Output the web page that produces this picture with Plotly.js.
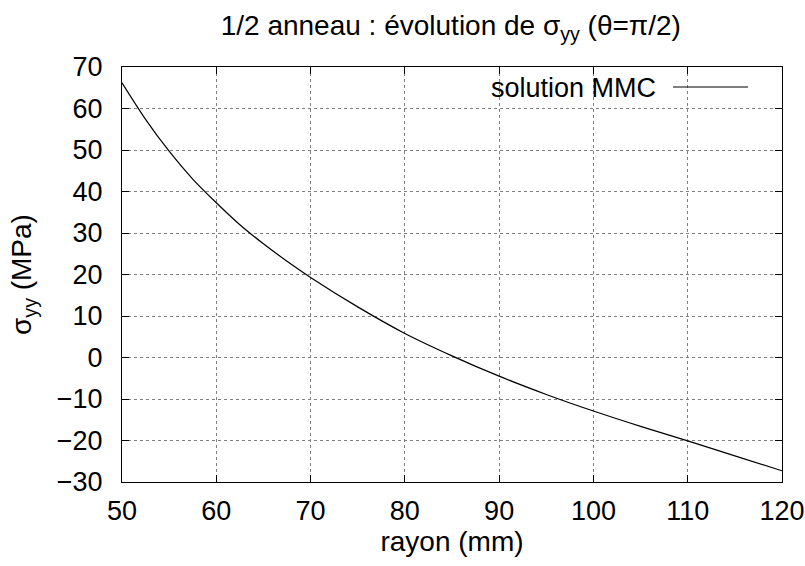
<!DOCTYPE html>
<html>
<head>
<meta charset="utf-8">
<script src="https://cdn.plot.ly/plotly-3.0.1.min.js"></script>
<style>html,body{margin:0;padding:0;background:#fff;}#chart{width:805px;height:566px;}</style>
</head>
<body>
<div id="chart"></div>
<script>
// Data
const rayon = [50, 52.5, 55, 57.5, 60, 62.5, 65, 67.5, 70, 75, 80, 85, 90, 95, 100, 105, 110, 115, 120];
const sigmaYY = [66.2, 57.4, 49.7, 43.0, 37.3, 32.0, 27.4, 23.2, 19.3, 12.2, 5.8, 0.4, -4.5, -8.9, -12.9, -16.6, -20.1, -23.7, -27.3];
const seriesName = 'solution MMC';
const xTicks = [50, 60, 70, 80, 90, 100, 110, 120];
const yTicks = [-30, -20, -10, 0, 10, 20, 30, 40, 50, 60, 70];

const FONT = 'Liberation Sans, Arial, Helvetica, sans-serif';

const trace = {
  x: rayon, y: sigmaYY, type: 'scatter', mode: 'lines', name: seriesName,
  line: {color: '#000', width: 1.2, shape: 'spline', smoothing: 0.8},
  showlegend: false, hoverinfo: 'skip'
};

const axisCommon = {
  showline: true, linecolor: '#000', linewidth: 1, mirror: 'ticks',
  ticks: 'inside', ticklen: 7, tickcolor: '#000', tickwidth: 1,
  showgrid: true, gridcolor: '#808080', gridwidth: 1, griddash: 'dot',
  zeroline: false, tickfont: {family: FONT, size: 27, color: '#000'}
};

const layout = {
  width: 805, height: 566,
  margin: {l: 122, r: 23, t: 67, b: 84, pad: 0},
  paper_bgcolor: '#fff', plot_bgcolor: '#fff',
  font: {family: FONT, color: '#000'},
  title: {text: '1/2 anneau : évolution de σ<sub>yy</sub> (θ=π/2)', font: {family: FONT, size: 28, color: '#000'},
          x: 0.56, xanchor: 'center', y: 0.955, yanchor: 'middle'},
  xaxis: Object.assign({}, axisCommon, {
    range: [50, 120], tickvals: xTicks, ticktext: xTicks.map(String),
    ticklabelstandoff: 5,
    title: {text: 'rayon (mm)', font: {family: FONT, size: 28, color: '#000'}, standoff: 3}
  }),
  yaxis: Object.assign({}, axisCommon, {
    range: [-30, 70], tickvals: yTicks, ticktext: yTicks.map(v => v < 0 ? '\u2212' + Math.abs(v) : String(v)),
    ticklabelstandoff: 13,
    title: {text: 'σ<sub>yy</sub> (MPa)', font: {family: FONT, size: 28, color: '#000'}, standoff: 16}
  }),
  annotations: [{
    xref: 'paper', yref: 'paper', x: (658 - 122) / 660, y: 1 - (88 - 67) / 415,
    xanchor: 'right', yanchor: 'middle', showarrow: false,
    text: seriesName, font: {family: FONT, size: 27, color: '#000'}
  }],
  shapes: [{
    type: 'line', xref: 'paper', yref: 'paper',
    x0: (673 - 122) / 660, x1: (748 - 122) / 660,
    y0: 1 - (87 - 67) / 415, y1: 1 - (87 - 67) / 415,
    line: {color: '#000', width: 1.2}
  }]
};

Plotly.newPlot('chart', [trace], layout, {displayModeBar: false, staticPlot: true});
</script>
</body>
</html>
